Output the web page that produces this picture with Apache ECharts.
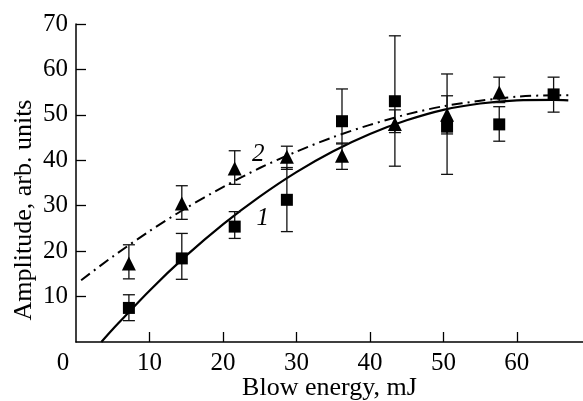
<!DOCTYPE html>
<html>
<head>
<meta charset="utf-8">
<script src="https://cdn.jsdelivr.net/npm/echarts@6/dist/echarts.min.js"></script>
<style>
  html, body { margin: 0; padding: 0; background: #fff; }
  #chart { width: 583px; height: 401px; }
</style>
</head>
<body>
<div id="chart"></div>
<script>
// blow energy (mJ) of the measured points
var energy = [7.2, 14.4, 21.6, 28.7, 36.2, 43.4, 50.5, 57.6, 65.0];

// curve 1: squares
var amp1 = [7.5, 18.4, 25.4, 31.3, 48.6, 53.0, 47.4, 47.9, 54.5];
var err1Low = [4.7, 13.8, 22.8, 24.3, 43.6, 38.7, 36.9, 44.2, 50.6];
var err1High = [10.4, 23.9, 28.7, 38.4, 55.7, 67.4, 59.0, 51.8, 58.3];

// curve 2: triangles (no point at 65 mJ)
var energy2 = [7.2, 14.4, 21.6, 28.7, 36.2, 43.4, 50.5, 57.6];
var amp2 = [17.3, 30.5, 38.2, 40.8, 41.0, 48.0, 50.0, 54.9];
var err2Low = [13.9, 27.0, 34.7, 38.0, 38.0, 46.1, 45.8, 52.7];
var err2High = [21.4, 34.4, 42.1, 43.1, 43.8, 51.1, 54.2, 58.3];

// fitted curves
var fit1X = [3.45, 5, 10, 15, 20, 25, 30, 35, 40, 45, 50, 55, 60, 65, 67];
var fit1Y = [0, 2.8, 11.3, 19.0, 25.9, 32.0, 37.4, 42.0, 45.8, 48.8, 51.1, 52.5, 53.2, 53.3, 53.2];
var fit2X = [0.7, 5, 10, 15, 20, 25, 30, 35, 40, 45, 50, 55, 60, 65, 67];
var fit2Y = [13.6, 18.8, 24.4, 29.5, 34.1, 38.3, 41.9, 45.1, 47.8, 50.1, 51.9, 53.1, 54.0, 54.3, 54.3];

// curve number labels
var curveLabels = [
  { name: '1', x: 25.4, y: 27.2 },
  { name: '2', x: 24.8, y: 41.4 }
];

var xTicks = [0, 10, 20, 30, 40, 50, 60];
var yTicks = [10, 20, 30, 40, 50, 60, 70];

var FONT = 'Liberation Serif';

function pairs(xs, ys) {
  return xs.map(function (x, i) { return [x, ys[i]]; });
}
function triples(xs, lo, hi) {
  return xs.map(function (x, i) { return [x, lo[i], hi[i]]; });
}

function errorBar(params, api) {
  var x = api.value(0);
  var p1 = api.coord([x, api.value(1)]);
  var p2 = api.coord([x, api.value(2)]);
  var w = 6;
  var style = { stroke: '#111', lineWidth: 1.3 };
  return {
    type: 'group',
    children: [
      { type: 'line', shape: { x1: p1[0], y1: p1[1], x2: p2[0], y2: p2[1] }, style: style },
      { type: 'line', shape: { x1: p1[0] - w, y1: p1[1], x2: p1[0] + w, y2: p1[1] }, style: style },
      { type: 'line', shape: { x1: p2[0] - w, y1: p2[1], x2: p2[0] + w, y2: p2[1] }, style: style }
    ]
  };
}

var chart = echarts.init(document.getElementById('chart'));

var option = {
  animation: false,
  backgroundColor: '#fff',
  grid: { left: 76, right: 0, top: 24, bottom: 59, outerBoundsMode: 'none' },
  xAxis: {
    type: 'value',
    min: 0,
    max: 69,
    name: 'Blow energy, mJ',
    nameLocation: 'middle',
    nameGap: 33,
    nameMoveOverlap: false,
    nameTextStyle: { fontFamily: FONT, fontSize: 26, color: '#000' },
    axisLine: { lineStyle: { color: '#000', width: 1.5 } },
    axisTick: { inside: true, length: 10, lineStyle: { color: '#000', width: 1.3 }, customValues: [10, 20, 30, 40, 50, 60] },
    axisLabel: {
      customValues: xTicks,
      margin: 9,
      fontFamily: FONT,
      fontSize: 25,
      color: '#000',
      formatter: function (v) { return v === 0 ? '{o|0}' : String(v); },
      rich: { o: { fontFamily: FONT, fontSize: 25, color: '#000', padding: [0, 26, 0, 0] } }
    },
    splitLine: { show: false }
  },
  yAxis: {
    type: 'value',
    min: 0,
    max: 70,
    interval: 10,
    name: 'Amplitude, arb. units',
    nameLocation: 'middle',
    nameGap: 39,
    nameMoveOverlap: false,
    nameTextStyle: { fontFamily: FONT, fontSize: 26, color: '#000', padding: [0, 54, 0, 0] },
    axisLine: { lineStyle: { color: '#000', width: 1.5 } },
    axisTick: { inside: true, length: 10, lineStyle: { color: '#000', width: 1.3 }, customValues: yTicks },
    axisLabel: { customValues: yTicks, margin: 8, fontFamily: FONT, fontSize: 25, color: '#000' },
    splitLine: { show: false }
  },
  series: [
    {
      name: 'fit 2',
      type: 'line',
      data: pairs(fit2X, fit2Y),
      smooth: 0.3,
      showSymbol: false,
      lineStyle: { color: '#000', width: 2, type: [11, 5, 2, 5] },
      z: 2
    },
    {
      name: 'fit 1',
      type: 'line',
      data: pairs(fit1X, fit1Y),
      smooth: 0.3,
      showSymbol: false,
      lineStyle: { color: '#000', width: 2.2 },
      z: 2
    },
    {
      name: 'err 1',
      type: 'custom',
      renderItem: errorBar,
      data: triples(energy, err1Low, err1High),
      z: 3
    },
    {
      name: 'err 2',
      type: 'custom',
      renderItem: errorBar,
      data: triples(energy2, err2Low, err2High),
      z: 3
    },
    {
      name: 'squares',
      type: 'scatter',
      data: pairs(energy, amp1),
      symbol: 'rect',
      symbolSize: 12,
      itemStyle: { color: '#000', opacity: 1 },
      z: 4
    },
    {
      name: 'triangles',
      type: 'scatter',
      data: pairs(energy2, amp2),
      symbol: 'triangle',
      symbolSize: 14,
      itemStyle: { color: '#000', opacity: 1 },
      z: 4
    },
    {
      name: 'labels',
      type: 'scatter',
      data: curveLabels.map(function (d) { return { name: d.name, value: [d.x, d.y] }; }),
      symbolSize: 0,
      itemStyle: { opacity: 1 },
      label: {
        show: true,
        position: 'inside',
        formatter: '{b}',
        fontFamily: FONT,
        fontStyle: 'italic',
        fontSize: 25,
        color: '#000'
      },
      z: 5
    }
  ]
};

chart.setOption(option);
</script>
</body>
</html>
